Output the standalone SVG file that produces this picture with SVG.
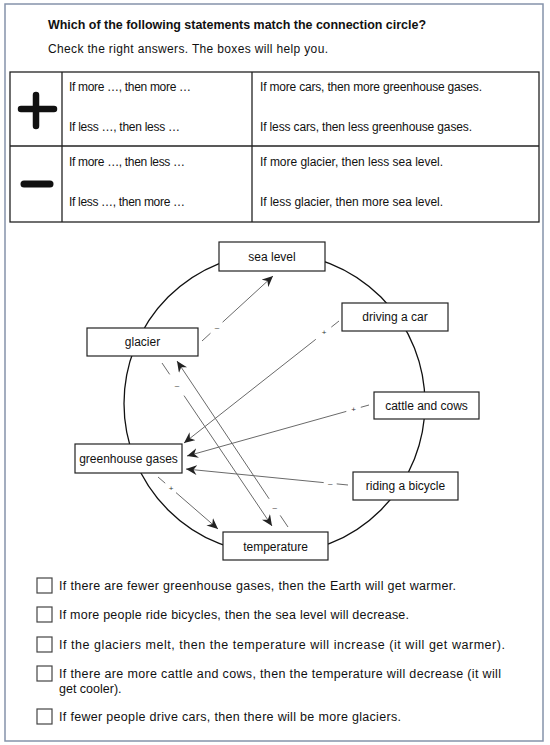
<svg xmlns="http://www.w3.org/2000/svg" width="550" height="745" viewBox="0 0 550 745">
<style>
text{font-family:"Liberation Sans","DejaVu Sans",sans-serif;fill:#111;}
.t{font-size:12px;}
.b{font-size:12px;font-weight:bold;}
.n{font-size:12px;text-anchor:middle;}
.box{fill:#fff;stroke:#222;stroke-width:1.2;}
.grid{stroke:#222;stroke-width:1.3;fill:none;}
.ln{stroke:#6a6a6a;stroke-width:1;fill:none;}
.arr{marker-end:url(#ah);}
.lb{font-size:8px;text-anchor:middle;dominant-baseline:central;fill:#333;}
.cb{fill:#fff;stroke:#444;stroke-width:1.2;}
.s{font-size:12.5px;}
</style>
<defs>
<marker id="ah" markerWidth="11" markerHeight="10" refX="11" refY="5" orient="auto" markerUnits="userSpaceOnUse" viewBox="0 0 11 10">
<path d="M0,0 L11,5 L0,10 L3.5,5 z" fill="#222"/>
</marker>
</defs>
<rect x="0" y="0" width="550" height="745" fill="#fff"/>
<rect x="5" y="4" width="538" height="737" fill="none" stroke="#8593aa" stroke-width="1.5"/>

<g id="header">
<text class="b" x="48" y="29" textLength="378" lengthAdjust="spacingAndGlyphs">Which of the following statements match the connection circle?</text>
<text class="t" x="48" y="53" textLength="280">Check the right answers. The boxes will help you.</text>
</g>

<g id="table">
<rect class="grid" x="10" y="72" width="529" height="150"/>
<line class="grid" x1="10" y1="146" x2="539" y2="146"/>
<line class="grid" x1="62" y1="72" x2="62" y2="222"/>
<line class="grid" x1="252" y1="72" x2="252" y2="222"/>
<path d="M21,109 H54 M36,95 V126" stroke="#111" stroke-width="6.5" stroke-linecap="round" fill="none"/>
<path d="M24,184 H50" stroke="#111" stroke-width="7" stroke-linecap="round" fill="none"/>
<text class="t" x="69" y="91" textLength="122">If more …, then more …</text>
<text class="t" x="69" y="131" textLength="111">If less …, then less …</text>
<text class="t" x="69" y="166" textLength="116">If more …, then less …</text>
<text class="t" x="69" y="206" textLength="116">If less …, then more …</text>
<text class="t" x="260" y="91" textLength="222">If more cars, then more greenhouse gases.</text>
<text class="t" x="260" y="131" textLength="212">If less cars, then less greenhouse gases.</text>
<text class="t" x="260" y="166" textLength="183">If more glacier, then less sea level.</text>
<text class="t" x="260" y="206" textLength="183">If less glacier, then more sea level.</text>
</g>

<circle cx="274.5" cy="403.5" r="150.5" fill="none" stroke="#111" stroke-width="1.3"/>

<g id="connectors">
<line class="ln" x1="202" y1="341" x2="210.5" y2="333.2"/>
<line class="ln arr" x1="222.6" y1="322.2" x2="273" y2="276"/>
<text class="lb" x="216.9" y="327.3">–</text>

<line class="ln" x1="339" y1="321" x2="331.3" y2="327.1"/>
<line class="ln arr" x1="315.8" y1="339.3" x2="184" y2="443"/>
<text class="lb" x="324" y="332.8">+</text>

<line class="ln" x1="369" y1="405" x2="360.8" y2="407.3"/>
<line class="ln arr" x1="346.3" y1="411.4" x2="187" y2="456"/>
<text class="lb" x="353.5" y="409.3">+</text>

<line class="ln" x1="348" y1="485" x2="336.7" y2="483.9"/>
<line class="ln arr" x1="323.7" y1="482.6" x2="186" y2="469"/>
<text class="lb" x="330.2" y="483.2">–</text>

<line class="ln" x1="158" y1="477" x2="165.2" y2="483.2"/>
<line class="ln arr" x1="176" y1="492.6" x2="218" y2="529"/>
<text class="lb" x="171.2" y="488.4">+</text>

<line class="ln" x1="162" y1="363" x2="169.7" y2="374.4"/>
<line class="ln arr" x1="184" y1="395.6" x2="272" y2="526"/>
<text class="lb" x="176.9" y="385">–</text>

<line class="ln" x1="288" y1="527" x2="280.2" y2="515.4"/>
<line class="ln arr" x1="269.1" y1="498.8" x2="177" y2="361"/>
<text class="lb" x="274.7" y="507.1">–</text>
</g>

<g id="sea-level"><rect class="box" x="219" y="242" width="106" height="29"/><text class="n" x="272" y="261">sea level</text></g>
<g id="glacier"><rect class="box" x="87" y="328" width="111" height="28"/><text class="n" x="142.5" y="346">glacier</text></g>
<g id="driving-a-car"><rect class="box" x="342" y="303" width="106" height="28"/><text class="n" x="395" y="321">driving a car</text></g>
<g id="cattle-and-cows"><rect class="box" x="374" y="392" width="105" height="27"/><text class="n" x="426.5" y="410">cattle and cows</text></g>
<g id="greenhouse-gases"><rect class="box" x="75" y="444" width="107" height="29"/><text class="n" x="128.5" y="463">greenhouse gases</text></g>
<g id="riding-a-bicycle"><rect class="box" x="353" y="472" width="105" height="28"/><text class="n" x="405.5" y="490">riding a bicycle</text></g>
<g id="temperature"><rect class="box" x="223" y="532" width="105" height="28"/><text class="n" x="275.5" y="551">temperature</text></g>

<g id="statements">
<rect class="cb" x="37" y="578" width="15" height="15"/>
<text class="s" x="59" y="590" textLength="397">If there are fewer greenhouse gases, then the Earth will get warmer.</text>
<rect class="cb" x="37" y="607" width="15" height="15"/>
<text class="s" x="59" y="619" textLength="350">If more people ride bicycles, then the sea level will decrease.</text>
<rect class="cb" x="37" y="637" width="15" height="15"/>
<text class="s" x="59" y="649" textLength="446">If the glaciers melt, then the temperature will increase (it will get warmer).</text>
<rect class="cb" x="37" y="666" width="15" height="15"/>
<text class="s" x="59" y="678" textLength="442">If there are more cattle and cows, then the temperature will decrease (it will</text>
<text class="s" x="59" y="693">get cooler).</text>
<rect class="cb" x="37" y="709" width="15" height="15"/>
<text class="s" x="59" y="721" textLength="342">If fewer people drive cars, then there will be more glaciers.</text>
</g>
</svg>
